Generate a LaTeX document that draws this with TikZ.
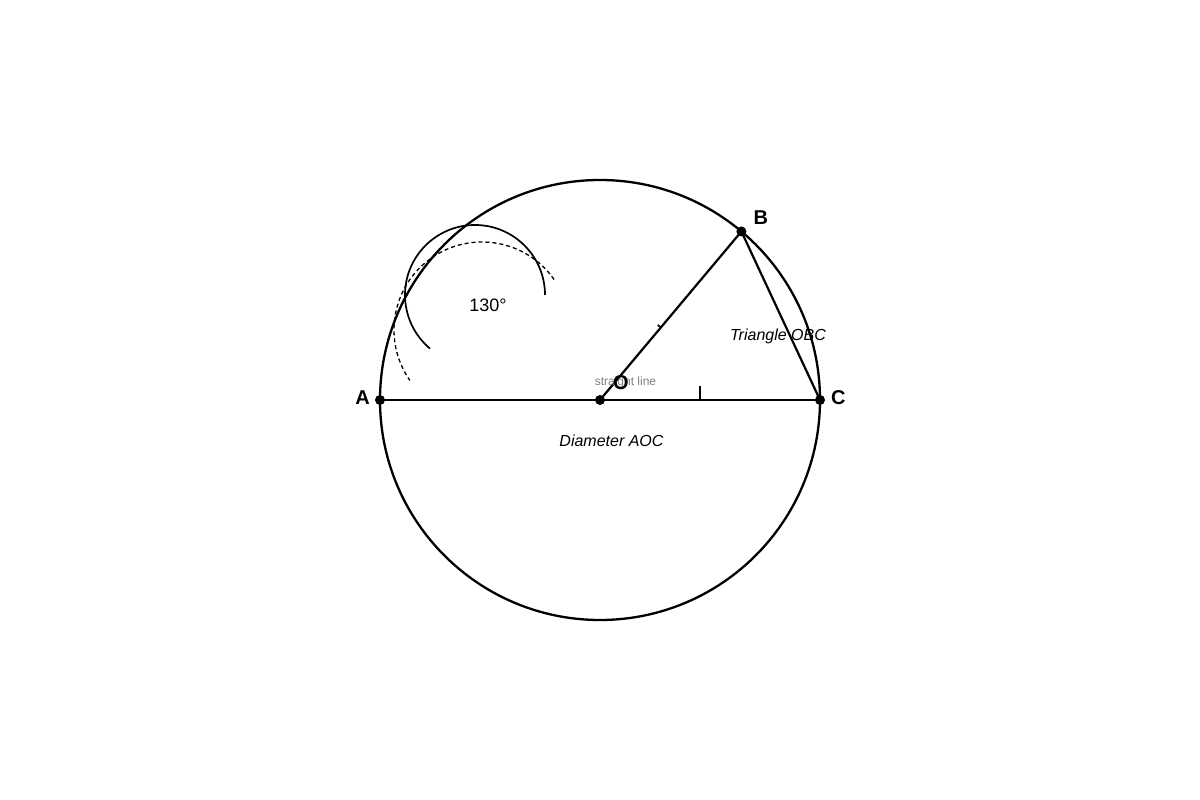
\documentclass[tikz,border=0pt]{standalone}
\usepackage{fontspec}
\setmainfont{Liberation Sans}
\usepackage{tikz}
\usetikzlibrary{positioning, calc}

\begin{document}
\begin{tikzpicture}[x=1pt, y=1pt,
  dot/.style={circle, fill=black, inner sep=0pt, minimum size=10pt},
  vname/.style={font=\fontsize{20}{24}\selectfont\bfseries, inner sep=0pt},
  note/.style={font=\fontsize{16}{19}\selectfont\itshape, inner sep=0pt}]
  \useasboundingbox (0,0) rectangle (1200,800);
  \coordinate (centre) at (600,400);
  \coordinate (solid_c) at (475,505);
  \coordinate (dash_c) at (482,470);
  \draw[line width=2.3pt] (centre) circle (220);
\node[dot] (A) at (380,400) {};
\node[dot] (C) at (820,400) {};
\node[dot] (B) at ($(centre)+(50:220)$) {};
\node[dot] (O) at (centre) {};
\draw[line width=2.2pt] (A.center) -- (O.center) -- (C.center);
\draw[line width=2.2pt] (O.center) -- (B.center) -- (C.center);
  % construction arcs
\draw[line width=1.7pt] (solid_c) ++(0:70) arc[start angle=0, end angle=230, radius=70];
\draw[line width=1.3pt, dash pattern=on 4pt off 3pt] (dash_c) ++(35:88) arc[start angle=35, end angle=215, radius=88];
  % ticks
\draw[line width=1.7pt] ($(O.center)!0.4545!(C.center)$) -- ++(90:14);
\draw[line width=1.7pt] ($(O.center)!0.43!(B.center)$) -- ++(140:4);
\node[vname, left=10pt of A.center, yshift=2pt] (A_name) {A};
\node[vname, right=11pt of C.center, yshift=2pt] (C_name) {C};
\node[vname, above right=7pt and 12pt of B.center] (B_name) {B};
\node[font=\fontsize{12}{14}\selectfont, text=black!50, inner sep=0pt] (straight) at (625.5,418) {straight line};
\node[vname, above right=10pt and 13pt of O.center] (O_name) {O};
\node[font=\fontsize{18}{21}\selectfont, inner sep=0pt] (angle) at (488,495) {130°};
\node[note] (tri) at (778,464) {Triangle OBC};
\node[note] (diam) at (611.5,359.5) {Diameter AOC};
\end{tikzpicture}
\end{document}
